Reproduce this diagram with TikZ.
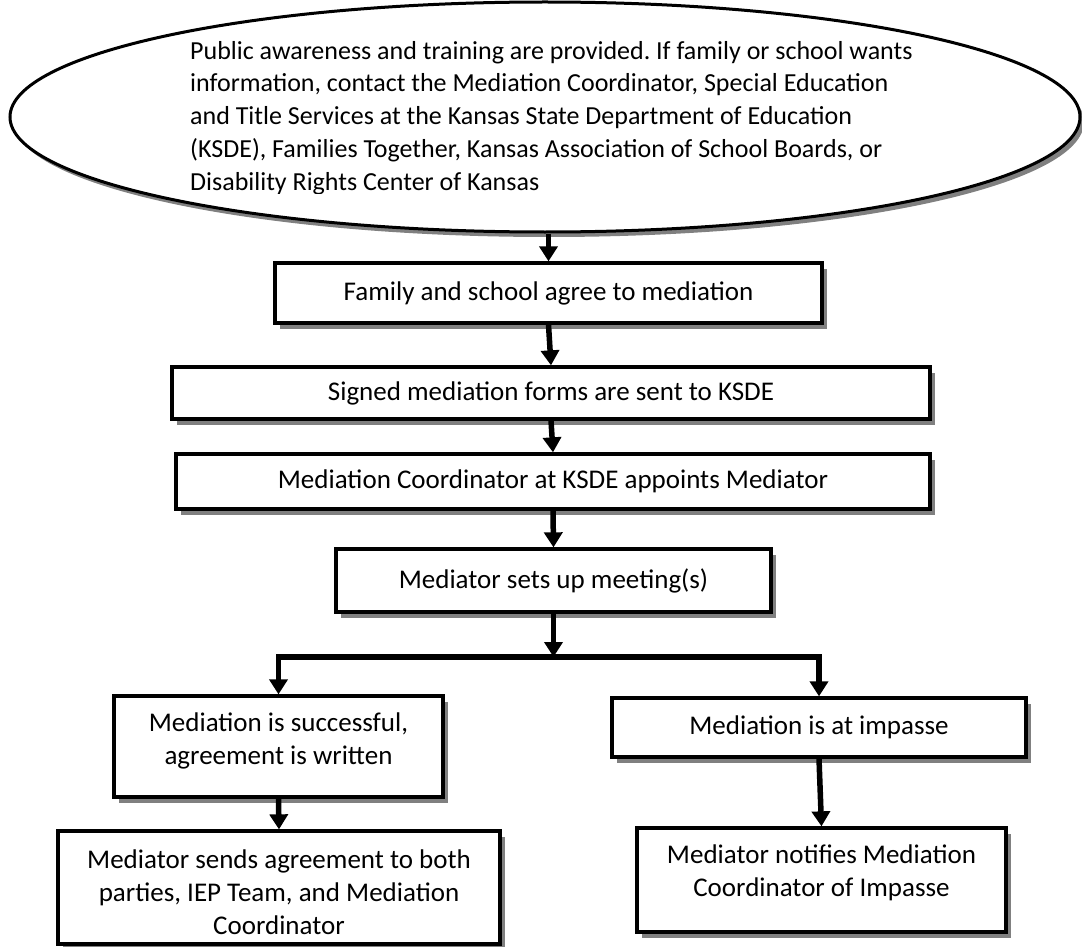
\documentclass[tikz,border=0pt]{standalone}
\usepackage{fontspec}
\setmainfont{Carlito}
\frenchspacing
\usetikzlibrary{arrows.meta,shapes.geometric,shadows}
\newcommand{\dpt}[1]{\rule[-#1]{0pt}{#1}}
\newcommand{\htt}[1]{\rule{0pt}{#1}}
\begin{document}
\begin{tikzpicture}[x=1pt,y=-1pt,
  shd/.style={drop shadow={shadow xshift=5pt,shadow yshift=-6pt,fill=black!50,opacity=1}},
  stepbox/.style={draw=black,line width=3.3pt,fill=white,shd,inner sep=0pt,align=center,
    font=\fontsize{27}{33}\selectfont},
  oval/.style={ellipse,draw=black,line width=3pt,fill=white,inner sep=0pt,
    drop shadow={shadow xshift=4pt,shadow yshift=-5pt,fill=black!50,opacity=1}},
  conn/.style={line width=5.5pt,-{Triangle[width=18pt,length=15pt]}},
  intro/.style={align=left,inner sep=0pt,anchor=north west,font=\fontsize{26}{32.7}\selectfont}]
\useasboundingbox (0,0) rectangle (1082,947);
% top ellipse
\node[oval,minimum width=1070pt,minimum height=230pt] (top) at (545,117) {};
\begin{scope}
\clip (0,0) rectangle (1082,193);
\node[intro] (toptext) at (190,41) {Public awareness and training are provided. If family or school wants\\
information, contact the Mediation Coordinator, Special Education\\
and Title Services at the Kansas State Department of Education\\
(KSDE), Families Together, Kansas Association of School Boards, or\\
Disability Rights Center of Kansas};
\end{scope}
% boxes
\node[stepbox,minimum width=547pt,minimum height=60pt] (b1) at (548.5,293) {Family and school agree to mediation};
\node[stepbox,minimum width=758pt,minimum height=52pt] (b2) at (551,393) {Signed mediation forms are sent to KSDE};
\node[stepbox,minimum width=754pt,minimum height=55pt] (b3) at (553,481.5) {Mediation Coordinator at KSDE appoints Mediator};
\node[stepbox,minimum width=435pt,minimum height=63pt] (b4) at (553.5,580.5) {Mediator sets up meeting(s)};
\node[stepbox,minimum width=329pt,minimum height=101pt] (b5) at (278.5,746.5) {Mediation is successful,\\agreement is written\dpt{16pt}};
\node[stepbox,minimum width=414pt,minimum height=59pt] (b6) at (819,727.5) {Mediation is at impasse};
\node[stepbox,minimum width=442pt,minimum height=113pt] (b7) at (279,887.5) {\htt{28pt}Mediator sends agreement to both\\parties, IEP Team, and Mediation\\Coordinator};
\node[stepbox,minimum width=369pt,minimum height=104pt] (b8) at (821.5,880) {Mediator notifies Mediation\\Coordinator of Impasse\dpt{19pt}};
% connectors
\draw[conn] (b1.north |- top.south) -- (b1.north);
\draw[conn] (b1.south) -- (b2.north);
\draw[conn] (b2.south) -- (b3.north);
\draw[conn] (b3.south) -- (b4.north);
\coordinate (jn) at (553.5,657);
\draw[conn] (b4.south) -- (jn);
\draw[conn] (jn) -| (b5.north);
\draw[conn] (jn) -| (b6.north);
\draw[conn] (b5.south) -- (b7.north);
\draw[conn] (b6.south) -- (b8.north);
\end{tikzpicture}
\end{document}
